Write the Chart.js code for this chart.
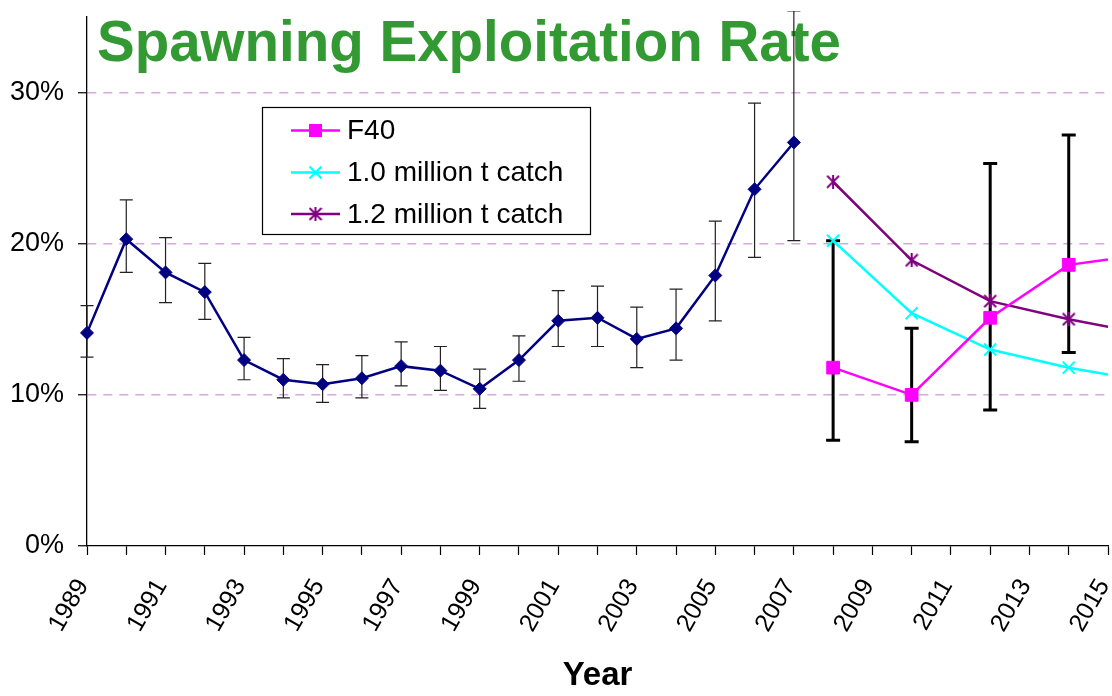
<!DOCTYPE html>
<html>
<head>
<meta charset="utf-8">
<title>Spawning Exploitation Rate</title>
<script src="https://cdn.jsdelivr.net/npm/chart.js@4.4.0/dist/chart.umd.min.js"></script>
<style>
  html, body { margin: 0; padding: 0; background: #fff; }
  #wrap { width: 1112px; height: 696px; }
</style>
</head>
<body>
<div id="wrap"><canvas id="myChart" width="1112" height="696"></canvas></div>
<script>
// assessment years, exploitation rate (%) and its error range
var years = [1989, 1990, 1991, 1992, 1993, 1994, 1995, 1996, 1997, 1998,
             1999, 2000, 2001, 2002, 2003, 2004, 2005, 2006, 2007];
var rate = [14.1, 20.3, 18.1, 16.8, 12.3, 11.0, 10.7, 11.1, 11.9, 11.6,
            10.4, 12.3, 14.9, 15.1, 13.7, 14.4, 17.9, 23.6, 26.7];
var rateLow = [12.5, 18.1, 16.1, 15.0, 11.0, 9.8, 9.5, 9.8, 10.6, 10.3,
               9.1, 10.9, 13.2, 13.2, 11.8, 12.3, 14.9, 19.1, 20.2];
var rateHigh = [15.9, 22.9, 20.4, 18.7, 13.8, 12.4, 12.0, 12.6, 13.5, 13.2,
                11.7, 13.9, 16.9, 17.2, 15.8, 17.0, 21.5, 29.3, 35.4];

// projections
var projYears = [2008, 2010, 2012, 2014, 2016];
var f40 = [11.8, 10.0, 15.1, 18.6, 19.3];
var catch10 = [20.2, 15.4, 13.0, 11.8, 10.9];
var catch12 = [24.1, 18.9, 16.2, 15.0, 14.0];
var projLow = [7.0, 6.9, 9.0, 12.8];
var projHigh = [20.2, 14.4, 25.3, 27.2];

var seriesNames = ['F40', '1.0 million t catch', '1.2 million t catch'];
var yTicks = [0, 10, 20, 30];
var labelYears = [1989, 1991, 1993, 1995, 1997, 1999, 2001, 2003, 2005, 2007, 2009, 2011, 2013, 2015];

var FONT = '"Liberation Sans", Arial, Helvetica, sans-serif';
Chart.defaults.font.family = FONT;
Chart.defaults.color = '#000';

function makeAsterisk(color, size) {
    var c = document.createElement('canvas');
    c.width = size;
    c.height = size;
    var g = c.getContext('2d');
    g.strokeStyle = color;
    g.lineWidth = 2;
    g.beginPath();
    g.moveTo(1, 1); g.lineTo(size - 1, size - 1);
    g.moveTo(size - 1, 1); g.lineTo(1, size - 1);
    g.moveTo(size / 2, 0); g.lineTo(size / 2, size);
    g.stroke();
    return c;
}
var asterisk = makeAsterisk('#800080', 14);

function pts(xs, ys) {
    return xs.map(function (x, i) { return { x: x, y: ys[i] }; });
}

// big green heading sitting inside the plot
var headingPlugin = {
    id: 'heading',
    beforeDatasetsDraw: function (chart) {
        var ctx = chart.ctx;
        ctx.save();
        ctx.font = 'bold 56.5px ' + FONT;
        ctx.fillStyle = '#339933';
        ctx.textBaseline = 'alphabetic';
        ctx.fillText('Spawning Exploitation Rate', 97, 61);
        ctx.restore();
    }
};

// vertical whiskers with caps, cut off a little above the plot
var errorBarPlugin = {
    id: 'errorBars',
    beforeDatasetsDraw: function (chart) {
        var ctx = chart.ctx, xs = chart.scales.x, ys = chart.scales.y;
        var area = chart.chartArea;
        function whisker(xv, lo, hi, w, cap, color) {
            var px = xs.getPixelForValue(xv);
            var y1 = ys.getPixelForValue(lo), y2 = ys.getPixelForValue(hi);
            ctx.strokeStyle = color;
            ctx.lineWidth = w;
            ctx.beginPath();
            ctx.moveTo(px, y1); ctx.lineTo(px, y2);
            ctx.moveTo(px - cap, y1); ctx.lineTo(px + cap, y1);
            ctx.moveTo(px - cap, y2); ctx.lineTo(px + cap, y2);
            ctx.stroke();
        }
        ctx.save();
        ctx.beginPath();
        ctx.rect(area.left - 20, area.top - 6, area.right - area.left + 20, area.bottom - area.top + 6);
        ctx.clip();
        years.forEach(function (yr, i) {
            whisker(yr, rateLow[i], rateHigh[i], 1.2, 6.5, '#222');
        });
        projLow.forEach(function (lo, i) {
            whisker(projYears[i], lo, projHigh[i], 3, 7, '#000');
        });
        ctx.restore();
    }
};

// boxed legend for the projection lines
var legendBoxPlugin = {
    id: 'legendBox',
    afterDatasetsDraw: function (chart) {
        var ctx = chart.ctx;
        var colors = ['#FF00FF', '#00FFFF', '#800080'];
        var rows = [130.5, 172.5, 214];
        ctx.save();
        ctx.fillStyle = '#fff';
        ctx.fillRect(262, 107, 328, 127);
        ctx.strokeStyle = '#000';
        ctx.lineWidth = 1.2;
        ctx.strokeRect(262.5, 107.5, 328, 127);
        ctx.font = '28px ' + FONT;
        ctx.textBaseline = 'middle';
        seriesNames.forEach(function (name, i) {
            var y = rows[i];
            ctx.strokeStyle = colors[i];
            ctx.lineWidth = 2.5;
            ctx.beginPath();
            ctx.moveTo(291, y); ctx.lineTo(340, y);
            ctx.stroke();
            var mx = 315.5;
            if (i === 0) {
                ctx.fillStyle = colors[i];
                ctx.fillRect(mx - 6.5, y - 6.5, 13, 13);
            } else if (i === 1) {
                ctx.lineWidth = 2;
                ctx.beginPath();
                ctx.moveTo(mx - 6, y - 6); ctx.lineTo(mx + 6, y + 6);
                ctx.moveTo(mx + 6, y - 6); ctx.lineTo(mx - 6, y + 6);
                ctx.stroke();
            } else {
                ctx.drawImage(asterisk, mx - 7, y - 7);
            }
            ctx.fillStyle = '#000';
            ctx.fillText(name, 347, y + 1);
        });
        ctx.restore();
    }
};

var ctxChart = document.getElementById('myChart').getContext('2d');
var myChart = new Chart(ctxChart, {
    type: 'line',
    data: {
        datasets: [{
            label: 'Exploitation rate',
            data: pts(years, rate),
            borderColor: '#000080',
            backgroundColor: '#000080',
            borderWidth: 2.5,
            pointStyle: 'rectRot',
            pointRadius: 6.5,
            pointBorderWidth: 1,
            clip: { left: 10, top: 10, right: 0, bottom: 0 }
        }, {
            label: seriesNames[0],
            data: pts(projYears, f40),
            borderColor: '#FF00FF',
            backgroundColor: '#FF00FF',
            borderWidth: 2.5,
            pointStyle: 'rect',
            pointRadius: 9,
            pointBorderWidth: 1,
            clip: { left: 0, top: 10, right: 0, bottom: 0 }
        }, {
            label: seriesNames[1],
            data: pts(projYears, catch10),
            borderColor: '#00FFFF',
            backgroundColor: '#00FFFF',
            borderWidth: 2.5,
            pointStyle: 'crossRot',
            pointRadius: 8.5,
            pointBorderWidth: 2,
            clip: { left: 0, top: 10, right: 0, bottom: 0 }
        }, {
            label: seriesNames[2],
            data: pts(projYears, catch12),
            borderColor: '#800080',
            backgroundColor: '#800080',
            borderWidth: 2.5,
            pointStyle: asterisk,
            clip: { left: 0, top: 10, right: 0, bottom: 0 }
        }]
    },
    options: {
        responsive: false,
        animation: false,
        layout: { autoPadding: false, padding: { top: 17, right: 4, left: 0, bottom: 0 } },
        plugins: {
            legend: { display: false },
            tooltip: { enabled: false }
        },
        scales: {
            x: {
                type: 'linear',
                min: 1989,
                max: 2015,
                afterBuildTicks: function (axis) {
                    var t = [];
                    for (var v = axis.min; v <= axis.max; v++) t.push({ value: v });
                    axis.ticks = t;
                },
                afterFit: function (axis) {
                    axis.height = 150;
                    axis.paddingLeft = 0;
                    axis.paddingRight = 0;
                },
                ticks: {
                    autoSkip: false,
                    minRotation: 60,
                    maxRotation: 60,
                    padding: 19,
                    labelOffset: -4,
                    font: { size: 25 },
                    color: '#000',
                    callback: function (v) { return labelYears.indexOf(v) >= 0 ? String(v) : ''; }
                },
                grid: { drawOnChartArea: false, tickLength: 9, tickColor: '#000', tickWidth: 1.2 },
                border: { color: '#000', width: 1.3 },
                title: {
                    display: true,
                    text: 'Year',
                    color: '#000',
                    font: { size: 33, weight: 'bold' },
                    padding: { top: 0, bottom: 0 }
                }
            },
            y: {
                min: 0,
                max: 35,
                afterBuildTicks: function (axis) {
                    axis.ticks = yTicks.map(function (v) { return { value: v }; });
                },
                afterFit: function (axis) {
                    axis.width = 87;
                    axis.paddingTop = 0;
                    axis.paddingBottom = 0;
                },
                ticks: {
                    padding: 14,
                    font: { size: 27 },
                    color: '#000',
                    callback: function (v) { return v + '%'; }
                },
                grid: {
                    color: function (c) { return c.tick && c.tick.value === 0 ? 'rgba(0,0,0,0)' : 'rgb(215,165,222)'; },
                    lineWidth: 1.5,
                    tickLength: 9,
                    tickColor: '#000',
                    tickWidth: 1.2
                },
                border: { color: '#000', width: 1.3, dash: [9, 7] }
            }
        }
    },
    plugins: [headingPlugin, errorBarPlugin, legendBoxPlugin]
});
</script>
</body>
</html>
